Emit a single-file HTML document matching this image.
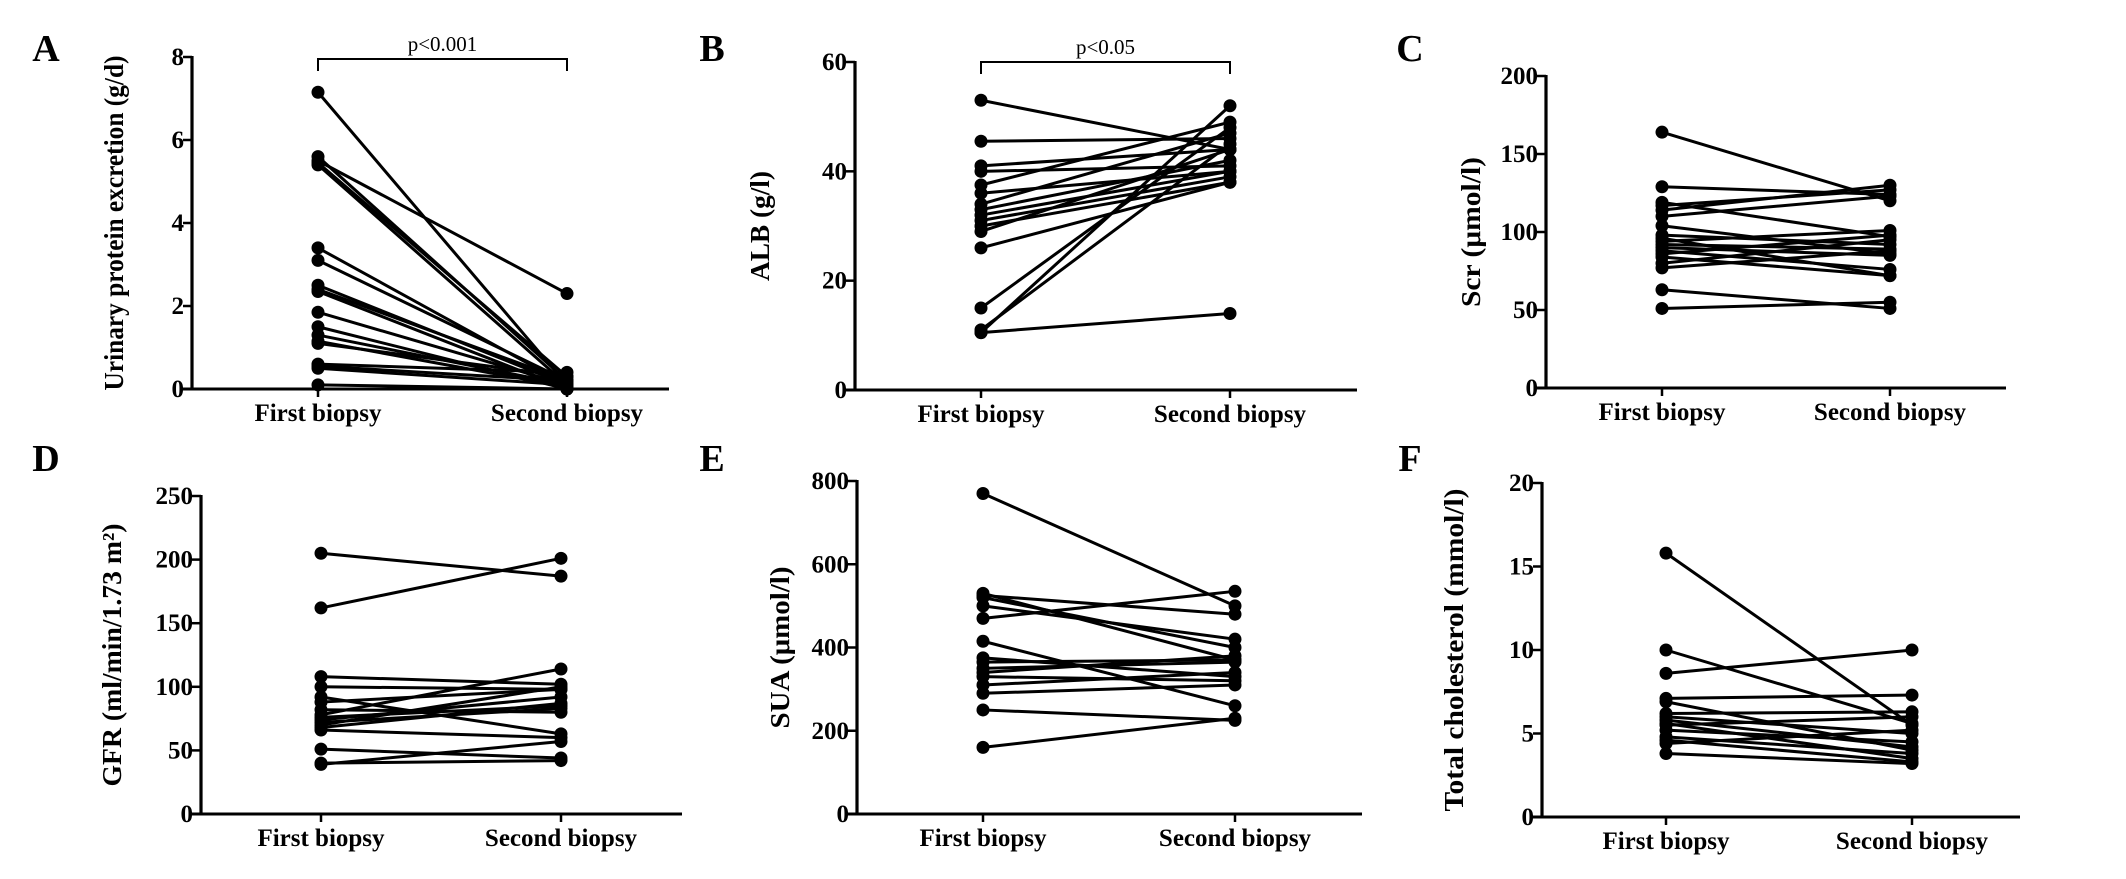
<!DOCTYPE html>
<html><head><meta charset="utf-8"><style>
html,body{margin:0;padding:0;background:#fff;overflow:hidden;}
svg{display:block;}
text{font-family:"Liberation Serif",serif;font-weight:bold;fill:#000;}
</style></head><body>
<svg id="fig" width="2126" height="879" viewBox="0 0 2126 879" xmlns="http://www.w3.org/2000/svg"></svg>
<script>
// ----- data -----
const categories = ["First biopsy", "Second biopsy"];
const aFirst  = [7.15,5.6,5.5,5.4,5.45,3.4,3.1,2.5,2.4,2.35,1.85,1.5,1.3,1.1,1.15,0.6,0.5,0.55,0.1];
const aSecond = [0.1,0.2,2.3,0.1,0.3,0.1,0.2,0.1,0.2,0.0,0.1,0.0,0.1,0.3,0.05,0.4,0.1,0.2,0.0];
const aTicks = [0,2,4,6,8];
const bFirst  = [53,45.5,41,40,37.5,36,34,33,32,31,30,29,26,15,10.5,11,10.5];
const bSecond = [44,46,44,41,49,40,47,42,40,39,38,44,38,48,52,45,14];
const bTicks = [0,20,40,60];
const cFirst  = [164,129,119,117,114,110,104,98,96,94,92,90,88,86,84,80,77,63,51];
const cSecond = [120,124,97,127,130,123,86,92,72,101,89,85,76,98,72,95,88,51,55];
const cTicks = [0,50,100,150,200];
const dFirst  = [205,162,108,100,92,88,82,78,76,74,72,70,68,66,51,40,39];
const dSecond = [187,201,102,98,63,98,80,114,85,92,83,100,87,60,44,42,57];
const dTicks = [0,50,100,150,200,250];
const eFirst  = [770,530,525,520,500,470,415,375,365,350,340,330,310,290,250,160];
const eSecond = [500,370,480,400,420,535,260,330,370,365,380,320,340,310,225,230];
const eTicks = [0,200,400,600,800];
const fFirst  = [15.8,10.0,8.6,7.1,6.9,6.2,6.0,5.8,5.6,5.5,5.2,4.8,4.6,4.4,3.8];
const fSecond = [5.5,5.6,10.0,7.3,4.0,6.3,5.0,4.2,3.5,6.0,4.5,3.8,3.3,5.2,3.2];
const fTicks = [0,5,10,15,20];

const NS="http://www.w3.org/2000/svg";
const svg=document.getElementById('fig');
function mk(tag,attrs,parent,txt){const e=document.createElementNS(NS,tag);for(const k in attrs)e.setAttribute(k,attrs[k]);if(txt!==undefined)e.textContent=txt;(parent||svg).appendChild(e);return e;}

const panels=[
 {id:'a',letter:'A',lx:46,ly:48,ax:192,yTop:57,yBot:389,xEnd:669,x1:318,x2:567,max:8,ticks:aTicks,f:aFirst,s:aSecond,title:'Urinary protein excretion (g/d)',tx:113,tlen:335,p:'p<0.001',bracketY:59},
 {id:'b',letter:'B',lx:712,ly:48,ax:855,yTop:62,yBot:390,xEnd:1357,x1:981,x2:1230,max:60,ticks:bTicks,f:bFirst,s:bSecond,title:'ALB (g/l)',tx:759,tlen:110,p:'p<0.05',bracketY:62},
 {id:'c',letter:'C',lx:1410,ly:48,ax:1546,yTop:76,yBot:388,xEnd:2006,x1:1662,x2:1890,max:200,ticks:cTicks,f:cFirst,s:cSecond,title:'Scr (\u03bcmol/l)',tx:1470,tlen:150},
 {id:'d',letter:'D',lx:46,ly:458,ax:201,yTop:496,yBot:814,xEnd:682,x1:321,x2:561,max:250,ticks:dTicks,f:dFirst,s:dSecond,title:'GFR (ml/min/1.73 m\u00b2)',tx:111,tlen:263},
 {id:'e',letter:'E',lx:712,ly:458,ax:857,yTop:481,yBot:814,xEnd:1362,x1:983,x2:1235,max:800,ticks:eTicks,f:eFirst,s:eSecond,title:'SUA (\u03bcmol/l)',tx:779,tlen:162},
 {id:'f',letter:'F',lx:1410,ly:458,ax:1542,yTop:483,yBot:817,xEnd:2020,x1:1666,x2:1912,max:20,ticks:fTicks,f:fFirst,s:fSecond,title:'Total cholesterol (mmol/l)',tx:1453,tlen:323}
];

panels.forEach(p=>{
  const g=mk('g',{});
  
  
  const y=v=>p.yBot-(v/p.max)*(p.yBot-p.yTop);
  const L=mk('text',{x:p.lx,y:p.ly+13,'font-size':38,'text-anchor':'middle'},g,p.letter);
  
  
  const ya=mk('line',{x1:p.ax,y1:p.yTop-1,x2:p.ax,y2:p.yBot+1.5,stroke:'#000','stroke-width':3.2},g);
  
  
  const xa=mk('line',{x1:p.ax-9,y1:p.yBot,x2:p.xEnd,y2:p.yBot,stroke:'#000','stroke-width':3},g);
  
  
  p.ticks.forEach(t=>{
    const ty=y(t);
    mk('line',{x1:p.ax-9,y1:ty,x2:p.ax,y2:ty,stroke:'#000','stroke-width':2.5},g);
    const tl=mk('text',{x:p.ax-8,y:ty+8,'font-size':25,'text-anchor':'end'},g,String(t));
    
    
  });
  [p.x1,p.x2].forEach((cx,i)=>{
    mk('line',{x1:cx,y1:p.yBot,x2:cx,y2:p.yBot+8,stroke:'#000','stroke-width':2.5},g);
    const cl=mk('text',{x:cx,y:p.yBot+32,'font-size':25,'text-anchor':'middle'},g,categories[i]);
    
    
  });
  const cy=(p.yTop+p.yBot)/2;
  const tt=mk('text',{x:0,y:0,'font-size':27,'text-anchor':'middle',transform:`translate(${p.tx+10},${cy}) rotate(-90)`,textLength:p.tlen,lengthAdjust:'spacingAndGlyphs'},g,p.title);
  
  
  if(p.p){
    const by=p.bracketY;
    const br=mk('path',{d:`M${p.x1},${by+12} V${by} H${p.x2} V${by+12}`,fill:'none',stroke:'#000','stroke-width':2},g);
    
    
    const pt=mk('text',{x:(p.x1+p.x2)/2,y:by-8,'font-size':21,'text-anchor':'middle'},g,p.p);
    pt.style.fontWeight='normal';
    
    
  }
  for(let i=0;i<p.f.length;i++){
    const ln=mk('line',{x1:p.x1,y1:y(p.f[i]),x2:p.x2,y2:y(p.s[i]),stroke:'#000','stroke-width':3},g);
    
    
    const d1=mk('circle',{cx:p.x1,cy:y(p.f[i]),r:6.5,fill:'#000'},g);
    
    
    const d2=mk('circle',{cx:p.x2,cy:y(p.s[i]),r:6.5,fill:'#000'},g);
    
    
  }
});
</script>
</body></html>
